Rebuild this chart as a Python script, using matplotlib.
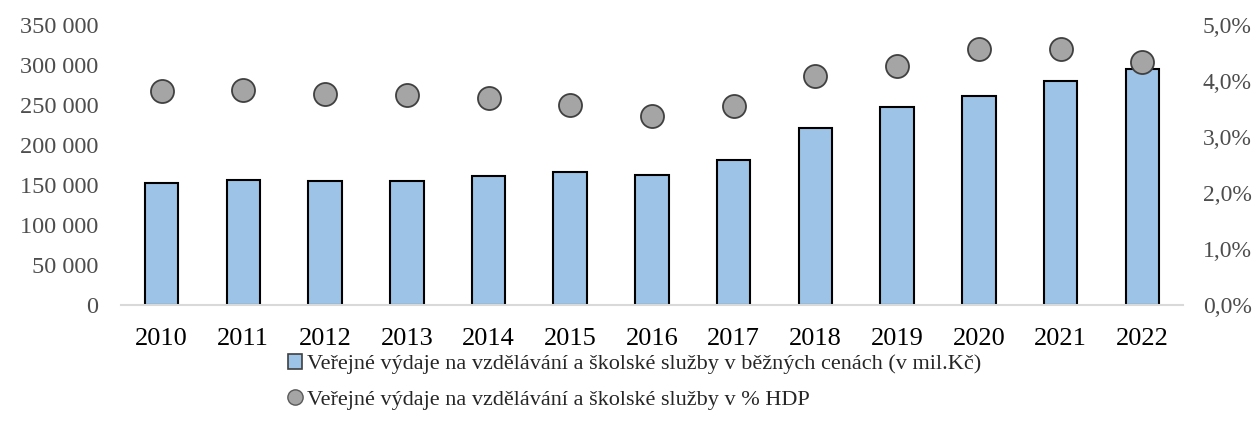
import matplotlib.pyplot as plt
from matplotlib.ticker import FuncFormatter
from matplotlib.lines import Line2D
from matplotlib.patches import Patch

years = ["2010", "2011", "2012", "2013", "2014", "2015", "2016",
         "2017", "2018", "2019", "2020", "2021", "2022"]
vydaje_mil = [152000, 155600, 154000, 154800, 160600, 165600, 162300,
              181000, 221000, 247300, 261500, 279800, 294800]
vydaje_hdp = [3.81, 3.83, 3.77, 3.74, 3.69, 3.57, 3.37,
              3.54, 4.08, 4.26, 4.57, 4.57, 4.34]

label_bar = "Veřejné výdaje na vzdělávání a školské služby v běžných cenách (v mil.Kč)"
label_dot = "Veřejné výdaje na vzdělávání a školské služby v % HDP"

plt.rcParams['font.family'] = ['Liberation Serif', 'DejaVu Serif']

fig = plt.figure(figsize=(12.56, 4.34), dpi=100)
ax = fig.add_axes([0.0961, 0.298, 0.846, 0.645])
x = range(len(years))

ax.bar(x, vydaje_mil, width=0.41, color="#9DC3E6", edgecolor="black",
       linewidth=1.5, zorder=2)
ax.set_ylim(0, 350000)
ax.set_yticks(range(0, 350001, 50000))
ax.yaxis.set_major_formatter(FuncFormatter(lambda v, p: f"{int(v):,}".replace(",", " ")))
ax.set_xlim(-0.5, len(years) - 0.5)
ax.set_xticks(list(x))
ax.set_xticklabels(years)

ax2 = ax.twinx()
ax2.scatter(x, vydaje_hdp, s=275, color="#A5A5A5", edgecolor="#404040",
            linewidth=1.3, zorder=3)
ax2.set_ylim(0, 5)
ax2.set_yticks([0, 1, 2, 3, 4, 5])
ax2.yaxis.set_major_formatter(FuncFormatter(lambda v, p: f"{v:.1f}%".replace(".", ",")))

for a in (ax, ax2):
    for s in a.spines.values():
        s.set_visible(False)
    a.tick_params(length=0, colors="#4d4d4d")
ax.spines["bottom"].set_visible(True)
ax.spines["bottom"].set_color("#D9D9D9")
ax.spines["bottom"].set_linewidth(1.5)
ax.tick_params(axis="x", pad=17, labelsize=19, colors="black")
ax.tick_params(axis="y", pad=16, labelsize=17.5)
ax2.tick_params(axis="y", pad=14, labelsize=17)

handles = [
    Patch(facecolor="#9DC3E6", edgecolor="#404040", linewidth=1.2, label=label_bar),
    Line2D([], [], marker="o", linestyle="none", markersize=11,
           markerfacecolor="#A5A5A5", markeredgecolor="#595959", label=label_dot),
]
leg = fig.legend(handles=handles, loc="upper center", bbox_to_anchor=(0.505, 0.205),
                 frameon=False, fontsize=16, handlelength=0.65, handletextpad=0.2,
                 labelspacing=0.68, borderaxespad=0)
for t in leg.get_texts():
    t.set_color("#262626")

fig.savefig("out.png", dpi=100)
